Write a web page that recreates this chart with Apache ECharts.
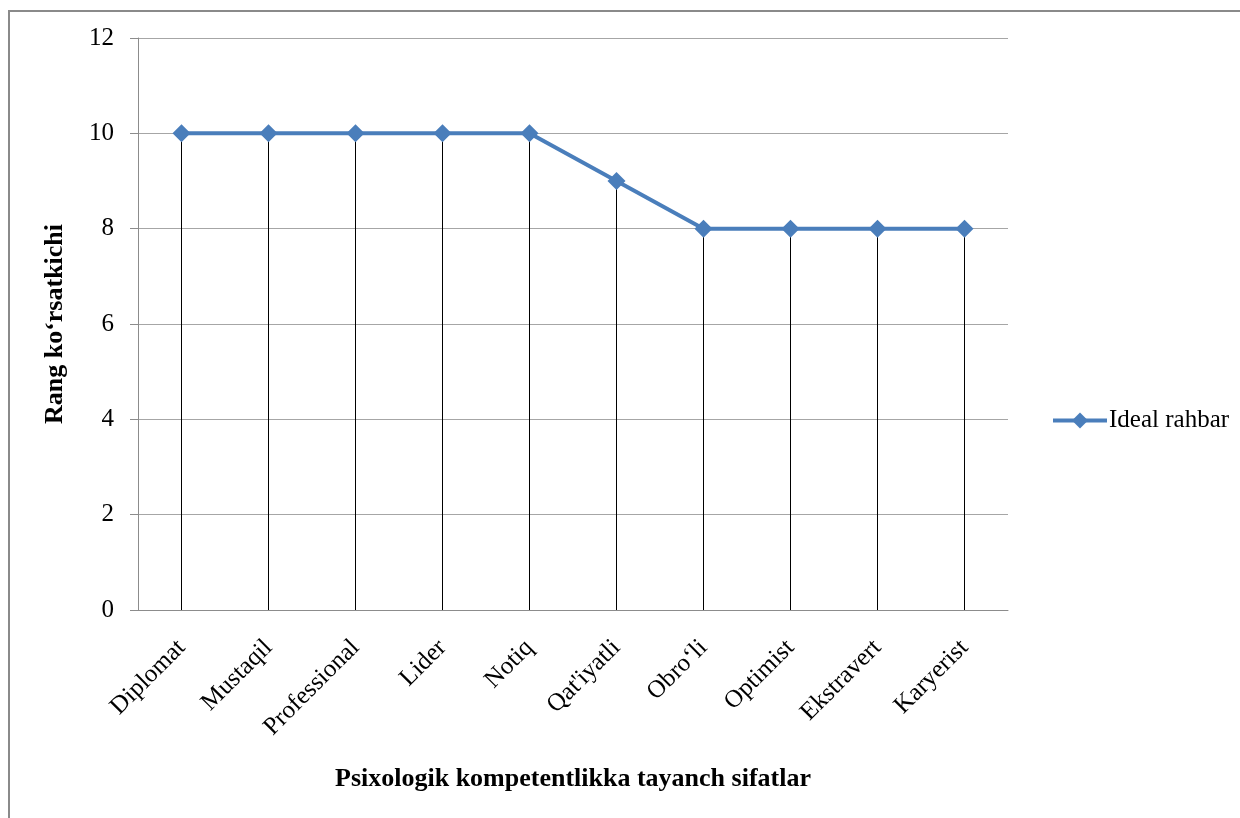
<!DOCTYPE html>
<html>
<head>
<meta charset="utf-8">
<title>Ideal rahbar</title>
<script src="https://cdn.jsdelivr.net/npm/echarts@6/dist/echarts.min.js"></script>
<style>
    html, body { margin: 0; padding: 0; background: #fff; }
    #chart { width: 1240px; height: 818px; }
</style>
</head>
<body>
<div id="chart"></div>
<script>
// kategoriyalar va qiymatlar
const categories = ['Diplomat', 'Mustaqil', 'Professional', 'Lider', 'Notiq',
    'Qat\'iyatli', 'Obro‘li', 'Optimist', 'Ekstravert', 'Karyerist'];
const idealRahbar = [10, 10, 10, 10, 10, 9, 8, 8, 8, 8];
const yTicks = [0, 2, 4, 6, 8, 10, 12];

const serif = '"Liberation Serif", "DejaVu Serif", serif';

var myChart = echarts.init(document.getElementById('chart'));

var option = {
    animation: false,
    backgroundColor: '#ffffff',
    textStyle: { fontFamily: serif },
    graphic: [{
        type: 'rect',
        shape: { x: 9, y: 11, width: 1300, height: 900 },
        style: { fill: 'none', stroke: '#8a8a8a', lineWidth: 2 },
        silent: true
    }],
    grid: {
        left: 138,
        top: 38,
        width: 870,
        height: 572
    },
    legend: {
        left: 1046,
        top: 403,
        itemWidth: 54,
        itemHeight: 20,
        itemGap: 2,
        data: ['Ideal rahbar'],
        lineStyle: { width: 4 },
        textStyle: { fontFamily: serif, fontSize: 25, color: '#000', padding: [0, 0, 0, -3] }
    },
    xAxis: {
        type: 'category',
        data: categories,
        boundaryGap: true,
        name: 'Psixologik kompetentlikka tayanch sifatlar',
        nameLocation: 'middle',
        nameGap: 156,
        nameTextStyle: { fontFamily: serif, fontSize: 26, fontWeight: 'bold', color: '#000' },
        axisLine: { lineStyle: { color: '#8c8c8c', width: 1 } },
        axisTick: { show: false },
        axisLabel: {
            rotate: 45,
            margin: 34,
            interval: 0,
            fontFamily: serif,
            fontSize: 25,
            color: '#000'
        },
        splitLine: { show: false }
    },
    yAxis: {
        type: 'value',
        min: 0,
        max: 12,
        interval: 2,
        name: 'Rang ko‘rsatkichi',
        nameLocation: 'middle',
        nameGap: 70,
        nameRotate: 90,
        nameTextStyle: { fontFamily: serif, fontSize: 26, fontWeight: 'bold', color: '#000' },
        axisLine: { show: true, lineStyle: { color: '#8c8c8c', width: 1 } },
        axisTick: { show: true, length: 8, inside: false, lineStyle: { color: '#8c8c8c' } },
        axisLabel: {
            margin: 24,
            fontFamily: serif,
            fontSize: 25,
            color: '#000',
            formatter: function (v) { return yTicks.indexOf(v) >= 0 ? String(v) : ''; }
        },
        splitLine: { show: true, lineStyle: { color: '#a6a6a6', width: 1 } }
    },
    series: [{
        // vertikal chiziqlar (drop lines)
        name: 'drop',
        type: 'bar',
        data: idealRahbar,
        barWidth: 1,
        silent: true,
        itemStyle: { color: '#000' },
        z: 1
    }, {
        name: 'Ideal rahbar',
        type: 'line',
        data: idealRahbar,
        symbol: 'diamond',
        symbolSize: 18,
        lineStyle: { color: '#4a7ebb', width: 4 },
        itemStyle: { color: '#4a7ebb' },
        z: 3
    }]
};

myChart.setOption(option);
</script>
</body>
</html>
